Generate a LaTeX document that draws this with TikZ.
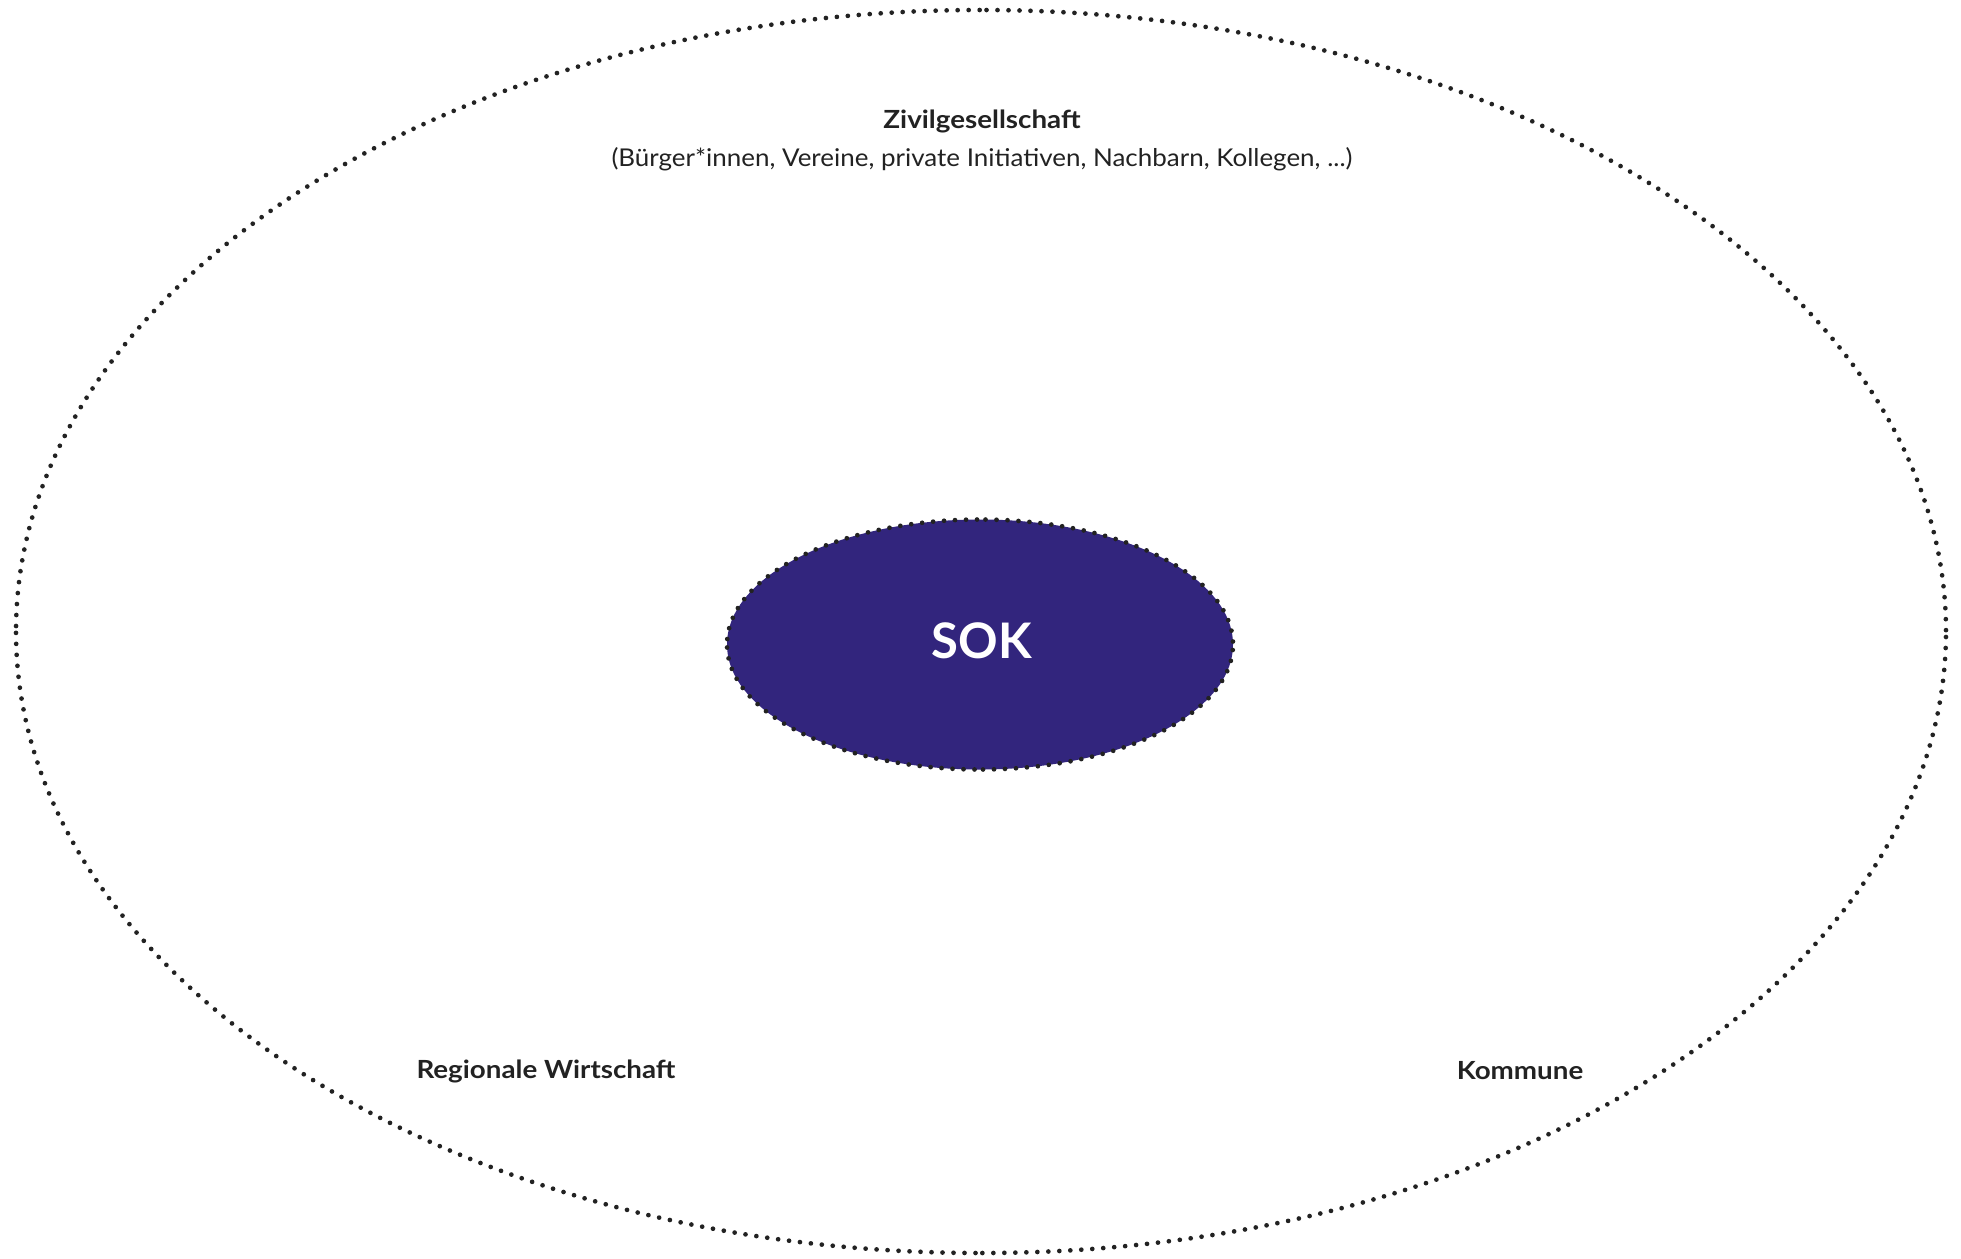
\documentclass[tikz,border=0pt]{standalone}
\usepackage{fontspec}
\setmainfont{Lato}
\newfontfamily\widebold[FakeStretch=1.11]{Lato}
\newfontfamily\widereg[FakeStretch=1.06]{Lato}
\usetikzlibrary{shapes.geometric}
\definecolor{sokblue}{RGB}{50,37,125}
\definecolor{txt}{RGB}{34,34,34}
\tikzset{
  dotline/.style={line width=4.7pt, line cap=round, dash pattern=on 0pt off 11pt, dash phase=5.5pt, draw=txt},
  label/.style={text=txt, font=\widebold\bfseries\fontsize{25}{29}\selectfont, inner sep=0pt},
  blob/.style={ellipse, inner sep=0pt, outer sep=0pt},
}
\begin{document}
\begin{tikzpicture}[x=1pt,y=-1pt]
\useasboundingbox (0,0) rectangle (1961,1258);
% outer ellipse
\node[blob, minimum width=1930pt, minimum height=1243pt] (outer) at (981,631.5) {};
\draw[dotline] (outer.east) arc[start angle=0, end angle=90, x radius=965, y radius=621.5];
\draw[dotline] (outer.south) arc[start angle=90, end angle=180, x radius=965, y radius=621.5];
\draw[dotline] (outer.west) arc[start angle=180, end angle=270, x radius=965, y radius=621.5];
\draw[dotline] (outer.north) arc[start angle=270, end angle=360, x radius=965, y radius=621.5];
% inner ellipse
\node[blob, fill=sokblue, minimum width=506pt, minimum height=250pt] (sok) at (980,644.5) {};
\draw[dotline] (sok.east) arc[start angle=0, end angle=90, x radius=253, y radius=125];
\draw[dotline] (sok.south) arc[start angle=90, end angle=180, x radius=253, y radius=125];
\draw[dotline] (sok.west) arc[start angle=180, end angle=270, x radius=253, y radius=125];
\draw[dotline] (sok.north) arc[start angle=270, end angle=360, x radius=253, y radius=125];
\node[text=white, font=\bfseries\fontsize{49}{56}\selectfont, inner sep=0pt] (soktext) at (982,641) {SOK};
\node[label] (ziv) at (982,121) {Zivilgesellschaft};
\node[text=txt, font=\widereg\fontsize{24.5}{28}\selectfont, inner sep=0pt] (zivsub) at (982,159) {(Bürger*innen, Vereine, private Initiativen, Nachbarn, Kollegen, ...)};
\node[label] (wirt) at (546,1071) {Regionale Wirtschaft};
\node[label] (komm) at (1520,1071) {Kommune};
\end{tikzpicture}
\end{document}
